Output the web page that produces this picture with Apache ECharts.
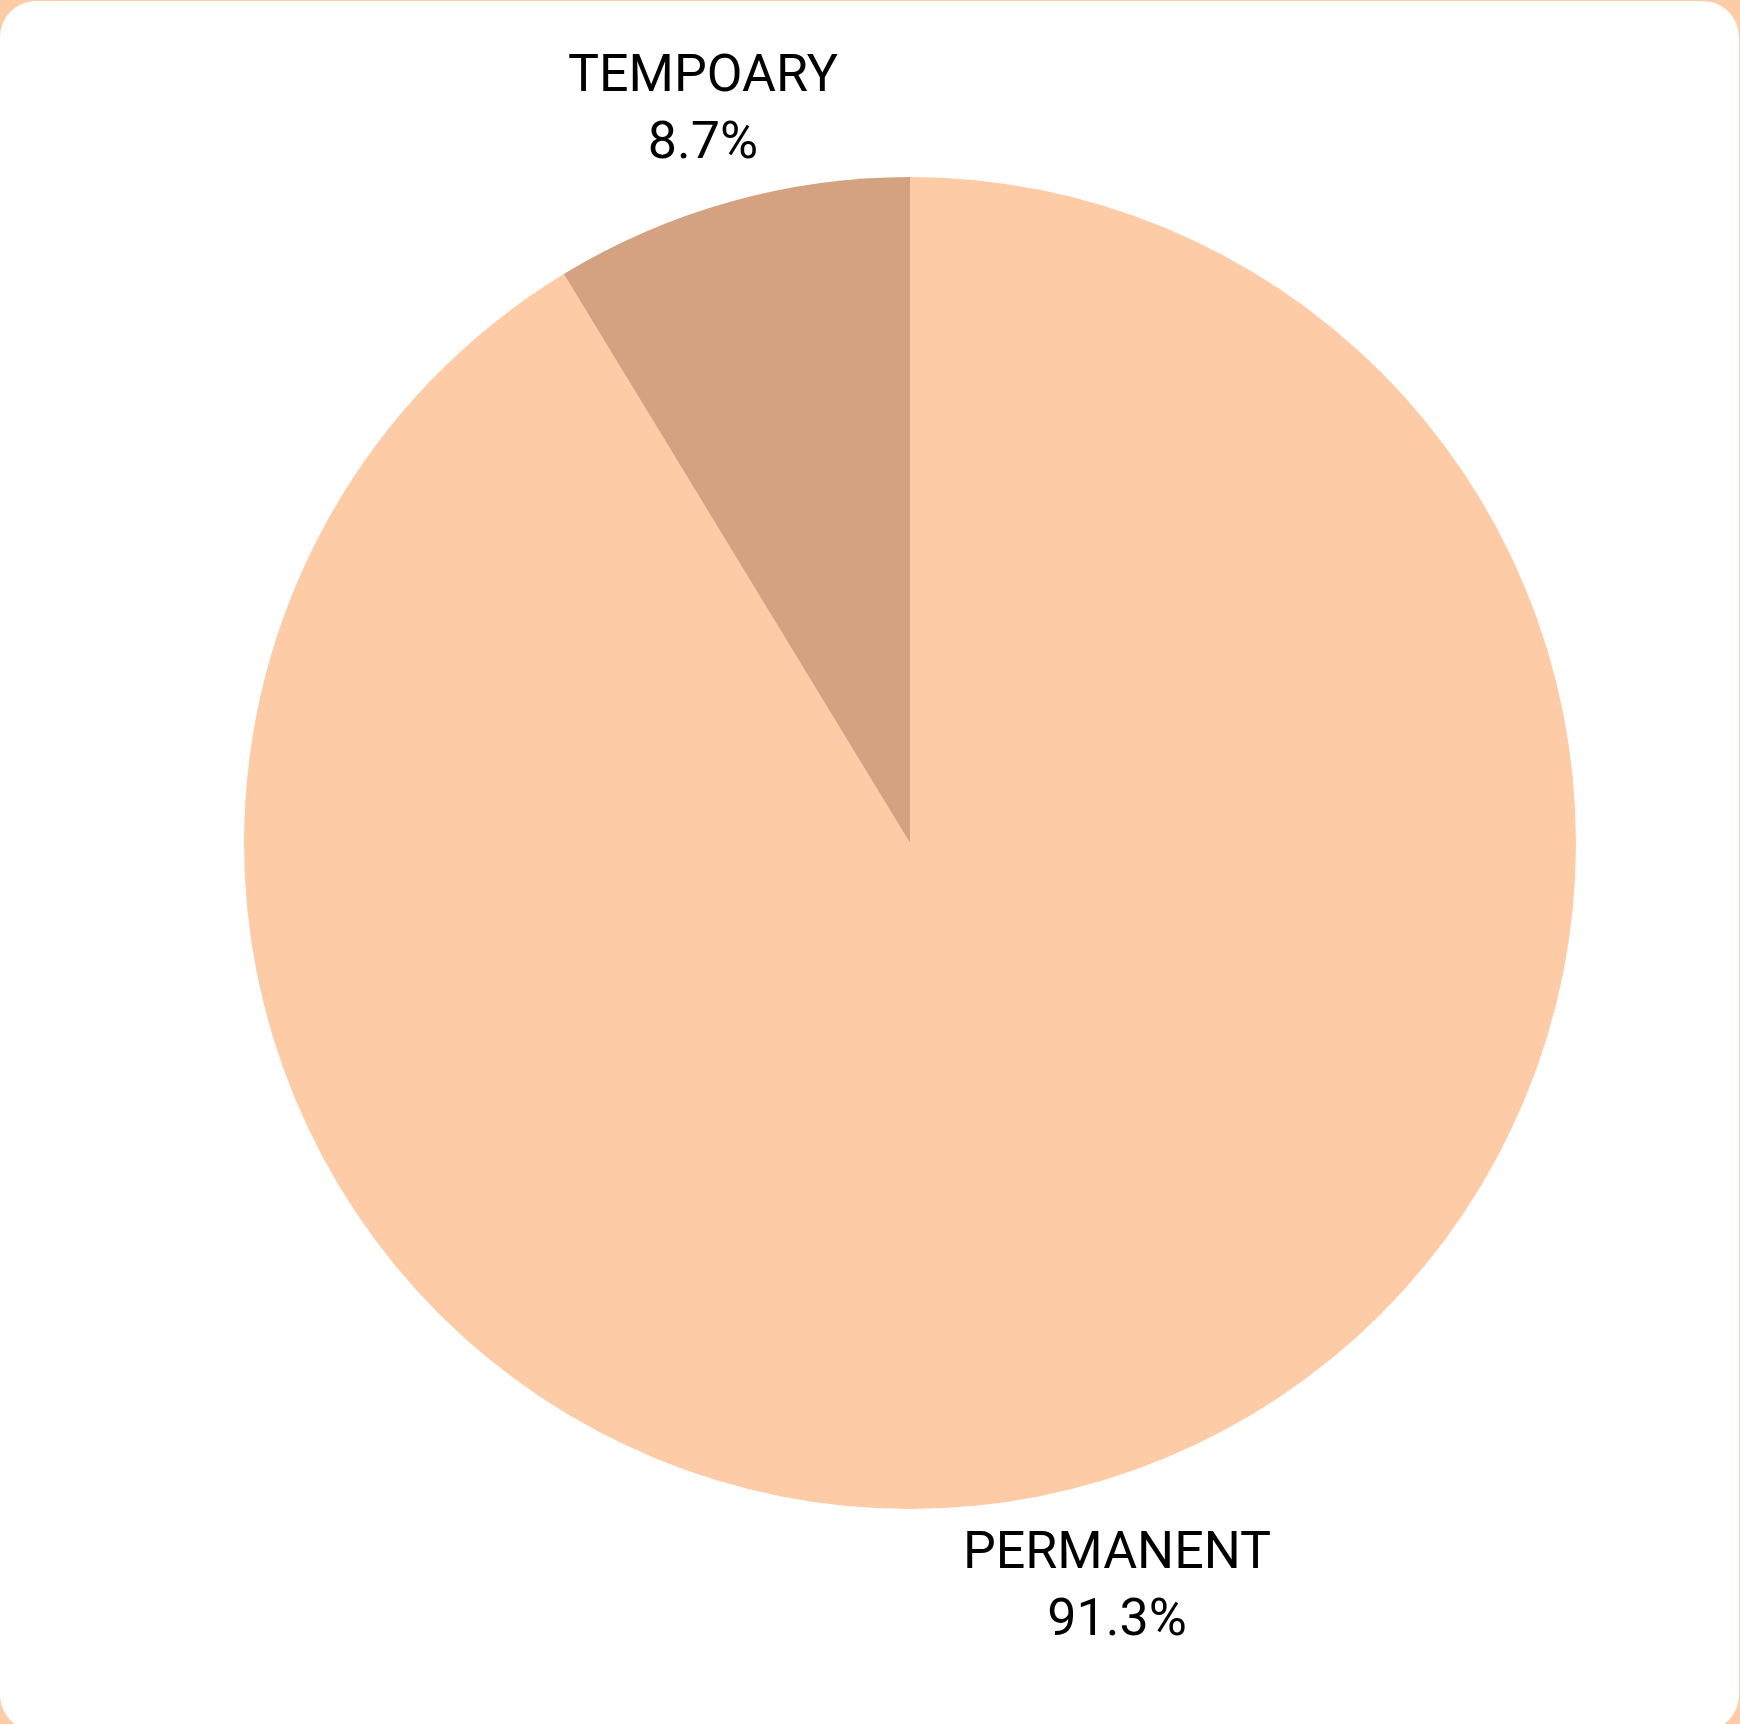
<!DOCTYPE html>
<html>
<head>
<meta charset="utf-8">
<script src="https://cdn.jsdelivr.net/npm/echarts@6/dist/echarts.min.js"></script>
<style>
  html, body { margin: 0; padding: 0; width: 1740px; height: 1724px; overflow: hidden; background: #FECBA7; }
  #card { position: absolute; left: 0; top: 1px; width: 1739px; height: 1730px; background: #ffffff; border-radius: 36px; overflow: hidden; }
  #chart { position: absolute; left: 0; top: -1px; width: 1740px; height: 1724px; }
</style>
</head>
<body>
<div id="card"><div id="chart"></div></div>
<script>
const categories = ['PERMANENT', 'TEMPOARY'];
const values = [91.3, 8.7];
const colors = ['#FECBA7', '#D4A181'];

const chart = echarts.init(document.getElementById('chart'), null, { renderer: 'canvas' });
const pieData = categories.map((c, i) => ({ name: c, value: values[i], itemStyle: { color: colors[i] } }));
const labelData = categories.map((c, i) => ({ name: c, value: values[i] }));

chart.setOption({
  animation: false,
  backgroundColor: 'transparent',
  series: [
    {
      type: 'pie', center: [910, 843], radius: [0, 666], startAngle: 90, clockwise: true,
      label: { show: false }, labelLine: { show: false }, emphasis: { disabled: true }, silent: true,
      data: pieData
    },
    {
      type: 'pie', center: [910, 843], radius: [666, 862], startAngle: 90, clockwise: true,
      silent: true, emphasis: { disabled: true }, itemStyle: { color: 'rgba(0,0,0,0)' },
      label: {
        show: true, position: 'inside', formatter: '{b}\n{d}%',
        fontFamily: 'Roboto', fontSize: 52, lineHeight: 67,
        color: '#000000', align: 'center', offset: [0, 7]
      },
      labelLine: { show: false },
      data: labelData
    }
  ]
});
</script>
</body>
</html>
